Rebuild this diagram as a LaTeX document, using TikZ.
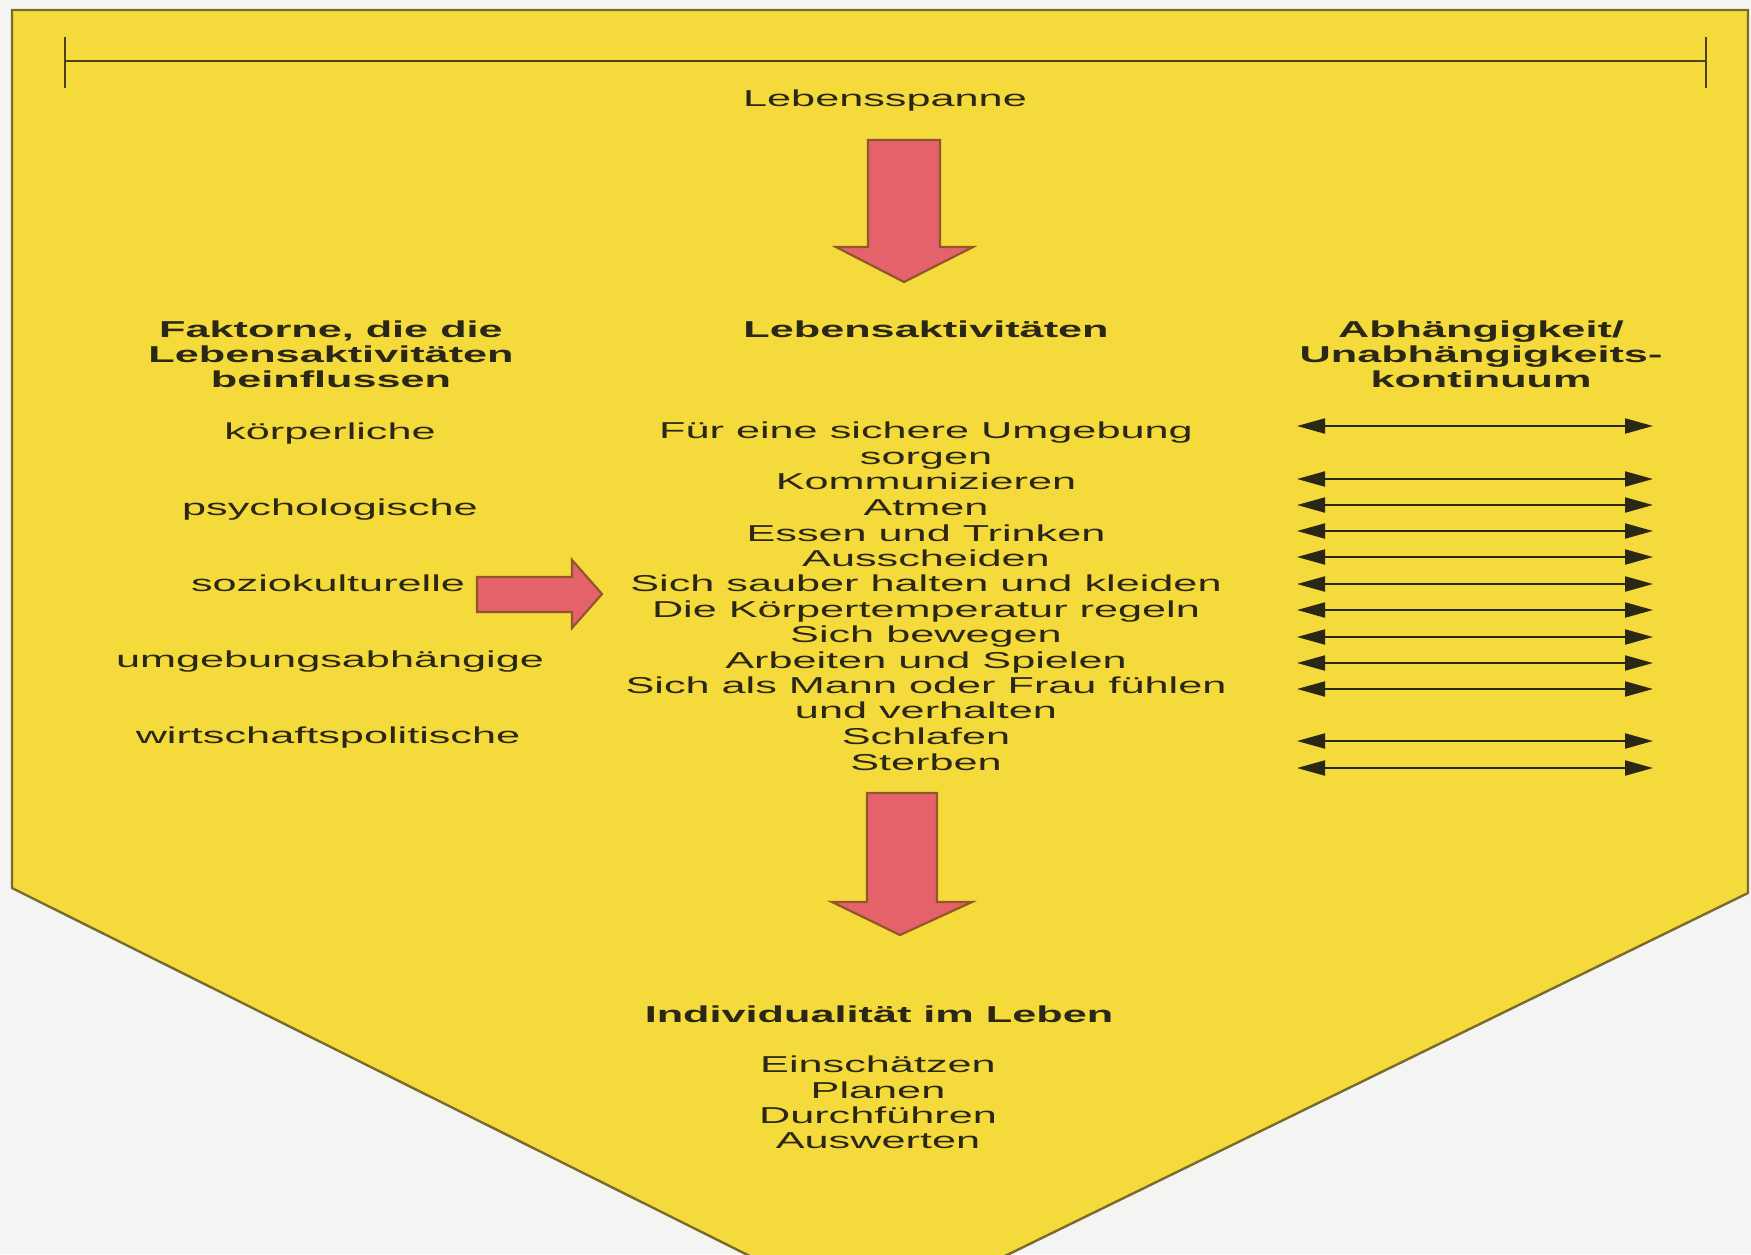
\documentclass[tikz,border=0pt]{standalone}
\usepackage{fontspec}
\setmainfont{Liberation Sans}[FakeStretch=1.88]
\usetikzlibrary{arrows.meta}
\definecolor{bgc}{HTML}{F4F4F2}
\definecolor{yel}{HTML}{F5DA3B}
\definecolor{edgec}{HTML}{7A6A2C}
\definecolor{ink}{HTML}{2B2716}
\definecolor{redf}{HTML}{E6626A}
\definecolor{rede}{HTML}{93552C}
\begin{document}
\begin{tikzpicture}[x=0.5pt,y=-0.5pt,
  txt/.style={font=\fontsize{11.5}{12.75}\selectfont, text=ink, inner sep=0pt, anchor=base},
  hdr/.style={txt, font=\fontsize{11.5}{12.75}\selectfont\bfseries},
  redarrow/.style={fill=redf, draw=rede, line width=1.1pt, line join=miter},
  dbl/.style={draw=ink, line width=1pt, {Triangle[length=14pt,width=7.5pt]}-{Triangle[length=14pt,width=7.5pt]}},
  spanline/.style={draw=ink!85!yel, line width=1pt}]
\fill[bgc] (0,0) rectangle (1751,1254);
\useasboundingbox (0,0) rectangle (1751,1254);
\begin{scope}
\clip (0,0) rectangle (1751,1254);
\draw[fill=yel, draw=edgec, line width=1.2pt, line join=miter] (12,10) -- (1748,10) -- (1748,893) -- (876,1319) -- (12,888) -- cycle;
\end{scope}

% life span bar
\coordinate (spanL) at (65,61);
\coordinate (spanR) at (1706,61);
\draw[spanline] (spanL) -- (spanR);
\draw[spanline] (spanL) ++(0,-24) -- ++(0,51);
\draw[spanline] (spanR) ++(0,-24) -- ++(0,51);
\node[txt] (spanne) at (885,106) {Lebensspanne};

% red block arrows
\draw[redarrow] (868,140) -- (940,140) -- (940,247) -- (973,247) -- (904,282) -- (836,247) -- (868,247) -- cycle;
\draw[redarrow] (477,577) -- (572,577) -- (572,560) -- (602,594) -- (572,628) -- (572,612) -- (477,612) -- cycle;
\draw[redarrow] (867,793) -- (937,793) -- (937,902) -- (972,902) -- (900,935) -- (832,902) -- (867,902) -- cycle;

% headers
\node[hdr] (h1a) at (331,337) {Faktorne, die die};
\node[hdr] (h1b) at (331,362) {Lebensaktivitäten};
\node[hdr] (h1c) at (331,387) {beinflussen};
\node[hdr] (h2) at (926,337) {Lebensaktivitäten};
\node[hdr] (h3a) at (1481,337) {Abhängigkeit/};
\node[hdr] (h3b) at (1481,362) {Unabhängigkeits-};
\node[hdr] (h3c) at (1481,387) {kontinuum};

% factors
\node[txt] (f1) at (330,439) {körperliche};
\node[txt] (f2) at (330,515) {psychologische};
\node[txt] (f3) at (328,591) {soziokulturelle};
\node[txt] (f4) at (330,667) {umgebungsabhängige};
\node[txt] (f5) at (328,743) {wirtschaftspolitische};

% activities
\node[txt] (a1a) at (926,438) {Für eine sichere Umgebung};
\node[txt] (a1b) at (926,464) {sorgen};
\node[txt] (a2) at (926,489) {Kommunizieren};
\node[txt] (a3) at (926,515) {Atmen};
\node[txt] (a4) at (926,541) {Essen und Trinken};
\node[txt] (a5) at (926,566) {Ausscheiden};
\node[txt] (a6) at (926,591) {Sich sauber halten und kleiden};
\node[txt] (a7) at (926,617) {Die Körpertemperatur regeln};
\node[txt] (a8) at (926,642) {Sich bewegen};
\node[txt] (a9) at (926,668) {Arbeiten und Spielen};
\node[txt] (a10a) at (926,693) {Sich als Mann oder Frau fühlen};
\node[txt] (a10b) at (926,718) {und verhalten};
\node[txt] (a11) at (926,744) {Schlafen};
\node[txt] (a12) at (926,770) {Sterben};

% continuum arrows
\foreach \yy [count=\i] in {426,479,505,531,557,584,610,637,663,689,741,768} {
  \coordinate (cl\i) at (1297,\yy);
  \coordinate (cr\i) at (1653,\yy);
  \draw[dbl] (cl\i) -- (cr\i);
}

% bottom
\node[hdr] (ind) at (879,1022) {Individualität im Leben};
\node[txt] (b1) at (878,1072) {Einschätzen};
\node[txt] (b2) at (878,1098) {Planen};
\node[txt] (b3) at (878,1123) {Durchführen};
\node[txt] (b4) at (878,1148) {Auswerten};
\end{tikzpicture}
\end{document}
